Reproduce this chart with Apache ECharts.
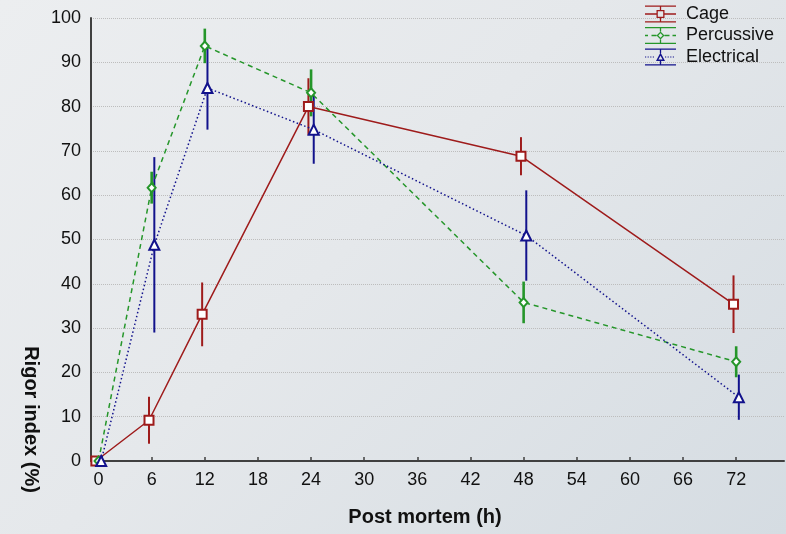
<!DOCTYPE html>
<html>
<head>
<meta charset="utf-8">
<script src="https://cdn.jsdelivr.net/npm/echarts@6/dist/echarts.min.js"></script>
<style>
html,body{margin:0;padding:0;}
#chart{width:786px;height:534px;background:linear-gradient(135deg,#eceef0 0%,#e5e8eb 45%,#d5dce2 100%);}
</style>
</head>
<body>
<div id="chart"></div>
<script>
// ---- data ----
const timePoints = [0, 6, 12, 24, 48, 72];
const xTickValues = [0, 6, 12, 18, 24, 30, 36, 42, 48, 54, 60, 66, 72];
const cageMean = [0, 9.2, 33.1, 80.0, 68.8, 35.4];
const cageErr  = [0, 5.3, 7.2, 6.4, 4.3, 6.5];
const percMean = [0, 61.7, 93.7, 83.1, 35.8, 22.4];
const percErr  = [0, 3.6, 3.9, 5.3, 4.7, 3.5];
const elecMean = [0, 48.8, 84.2, 74.8, 50.9, 14.4];
const elecErr  = [0, 19.8, 9.4, 7.7, 10.2, 5.1];
const seriesNames = ['Cage', 'Percussive', 'Electrical'];

// ---- styling ----
const FONT = '"Liberation Sans", Arial, Helvetica, sans-serif';
const colors = { Cage: '#9e1b1b', Percussive: '#25962a', Electrical: '#12128c' };
const errWidth = { Cage: 2, Percussive: 2.6, Electrical: 2 };
const xShift = { Cage: -0.3, Percussive: 0, Electrical: 0.3 };

function rect(x1, y1, x2, y2) { return 'M' + x1 + ' ' + y1 + 'H' + x2 + 'V' + y2 + 'H' + x1 + 'Z'; }
const frame = rect(0, 0, 31, 1.3) + rect(0, 15.7, 31, 17) +
  rect(14.85, 0, 16.15, 4.5) + rect(14.85, 12.5, 16.15, 17);
function dashes(segs) { return segs.map(s => rect(s[0], 7.85, s[1], 9.15)).join(''); }
function dots(from, to) { let p = ''; for (let x = from; x + 1.2 <= to; x += 2.6) p += rect(x, 7.9, x + 1.2, 9.1); return p; }
const iconCage = 'path://' + frame + dashes([[0, 11.5], [19.5, 31]]) +
  rect(11.5, 4.5, 19.5, 5.8) + rect(11.5, 11.2, 19.5, 12.5) + rect(11.5, 4.5, 12.8, 12.5) + rect(18.2, 4.5, 19.5, 12.5);
const iconPerc = 'path://' + frame + dashes([[0, 3], [6.5, 11.5], [19.5, 24.5], [27.5, 31]]) +
  'M15.5 4.5L19.5 8.5L15.5 12.5L11.5 8.5Z' + 'M15.5 6.3L13.3 8.5L15.5 10.7L17.7 8.5Z';
const iconElec = 'path://' + frame + dots(0, 11) + dots(20, 31.2) +
  'M15.5 4L20 12.5L11 12.5Z' + 'M15.5 7.2L13.4 11.1L17.6 11.1Z';

function lineSeries(name, means, lineType, symbol, size, bw) {
  return {
    name: name, type: 'line', z: 5,
    data: timePoints.map((t, i) => [t + xShift[name], means[i]]),
    symbol: symbol, symbolSize: size, showAllSymbol: true,
    lineStyle: { color: colors[name], width: 1.5, type: lineType },
    itemStyle: { color: colors[name], borderColor: colors[name], borderWidth: bw },
    emphasis: { disabled: true }, animation: false
  };
}
function errSeries(name, means, errs) {
  const data = [];
  timePoints.forEach((t, i) => { if (errs[i] > 0) data.push([t + xShift[name], means[i] - errs[i], means[i] + errs[i]]); });
  return {
    name: name + ' SE', type: 'custom', z: 3, animation: false,
    data: data,
    encode: { x: 0, y: [1, 2] },
    renderItem: function (params, api) {
      const p1 = api.coord([api.value(0), api.value(1)]);
      const p2 = api.coord([api.value(0), api.value(2)]);
      return { type: 'line', shape: { x1: p1[0], y1: p1[1], x2: p2[0], y2: p2[1] },
        style: { stroke: colors[name], lineWidth: errWidth[name] } };
    }
  };
}

const chart = echarts.init(document.getElementById('chart'), null, { renderer: 'canvas' });
chart.setOption({
  backgroundColor: 'transparent',
  textStyle: { fontFamily: FONT },
  grid: { left: 91, right: 2, top: 18, bottom: 73, containLabel: false },
  legend: {
    orient: 'vertical', left: 645, top: 5, padding: 0, itemGap: 3.5,
    itemWidth: 31, itemHeight: 17, selectedMode: false,
    itemStyle: { borderWidth: 0 },
    textStyle: { fontFamily: FONT, fontSize: 18, color: '#111', padding: [0, 0, 0, 5] },
    data: [
      { name: 'Cage', icon: iconCage },
      { name: 'Percussive', icon: iconPerc },
      { name: 'Electrical', icon: iconElec }
    ]
  },
  xAxis: {
    type: 'value', min: -0.85, max: 77.4,
    name: 'Post mortem (h)', nameLocation: 'middle', nameGap: 46,
    nameTextStyle: { fontFamily: FONT, fontSize: 20, fontWeight: 'bold', color: '#111', padding: [0, 25, 0, 0] },
    axisLine: { onZero: false, lineStyle: { color: '#404040', width: 2 } },
    axisTick: { show: true, inside: true, length: 4, customValues: xTickValues, lineStyle: { color: '#404040', width: 1.5 } },
    axisLabel: { customValues: xTickValues, fontFamily: FONT, fontSize: 18, color: '#111', margin: 10 },
    splitLine: { show: false }
  },
  yAxis: {
    type: 'value', min: 0, max: 100, interval: 10,
    name: 'Rigor index (%)', nameLocation: 'middle', nameRotate: -90, nameGap: 48,
    nameTextStyle: { fontFamily: FONT, fontSize: 20, fontWeight: 'bold', color: '#111', padding: [0, 0, 0, 360] },
    axisLine: { show: true, onZero: false, lineStyle: { color: '#404040', width: 2 } },
    axisTick: { show: false },
    axisLabel: { fontFamily: FONT, fontSize: 18, color: '#111', margin: 10 },
    splitLine: { show: true, lineStyle: { color: '#bdbdbd', type: 'dotted', width: 1 } }
  },
  series: [
    lineSeries('Cage', cageMean, 'solid', 'emptyRect', 9, 1.5),
    lineSeries('Percussive', percMean, [5, 4], 'emptyDiamond', [8, 9], 1.3),
    lineSeries('Electrical', elecMean, [1.5, 2.5], 'emptyTriangle', 10, 2),
    errSeries('Cage', cageMean, cageErr),
    errSeries('Percussive', percMean, percErr),
    errSeries('Electrical', elecMean, elecErr)
  ]
});
</script>
</body>
</html>
